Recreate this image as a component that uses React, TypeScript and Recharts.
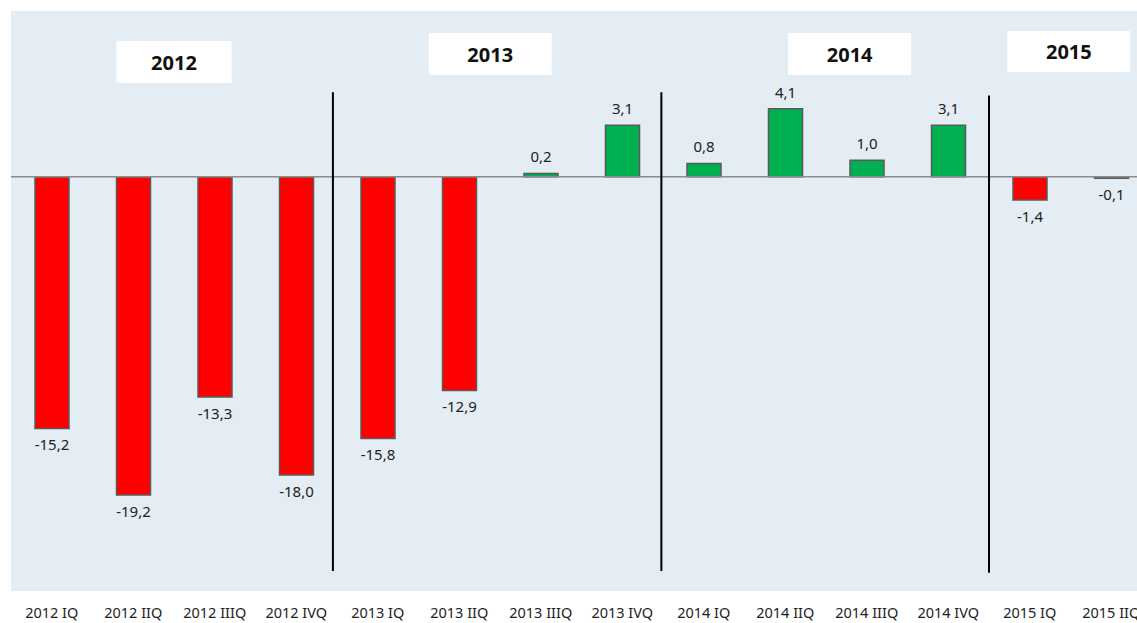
import React from 'react'
import {
    BarChart,
    Bar,
    XAxis,
    YAxis,
    CartesianGrid,
    ReferenceLine,
    ReferenceDot,
    LabelList,
    Cell,
} from 'recharts'

const quarters = [
    '2012 IQ', '2012 IIQ', '2012 IIIQ', '2012 IVQ',
    '2013 IQ', '2013 IIQ', '2013 IIIQ', '2013 IVQ',
    '2014 IQ', '2014 IIQ', '2014 IIIQ', '2014 IVQ',
    '2015 IQ', '2015 IIQ',
]
const values = [
    -15.2, -19.2, -13.3, -18.0,
    -15.8, -12.9, 0.2, 3.1,
    0.8, 4.1, 1.0, 3.1,
    -1.4, -0.1,
]
const years = ['2012', '2013', '2014', '2015']

// where the year boxes and the dividers sit, in axis units
const yearAnchors = [
    { x: 1.5, y: 6.92, w: 115, h: 42 },
    { x: 5.38, y: 7.4, w: 123, h: 42 },
    { x: 9.79, y: 7.4, w: 123, h: 42 },
    { x: 12.48, y: 7.55, w: 123, h: 41 },
]
const dividers = [
    { x: 3.45, top: 5.1, bottom: -23.8 },
    { x: 7.48, top: 5.1, bottom: -23.8 },
    { x: 11.5, top: 4.9, bottom: -23.9 },
]

const font = '"Noto Sans", "Open Sans", sans-serif'

const chartData = values.map((v, i) => ({ idx: i, value: v }))

const fmt = (v: any) => Number(v).toFixed(1).replace('.', ',')

const YearBox = (label: string, w: number, h: number) => (props: any) => {
    const { cx, cy } = props
    return (
        <g>
            <rect x={cx - w / 2} y={cy - h / 2} width={w} height={h} fill="#ffffff" />
            <text
                x={cx}
                y={cy}
                textAnchor="middle"
                dominantBaseline="central"
                fontFamily={font}
                fontWeight="bold"
                fontSize={20}
                fill="#111"
            >
                {label}
            </text>
        </g>
    )
}

export default function App() {
    return (
        <div style={{ position: 'fixed', left: 0, top: 0, width: 1137, height: 623, overflow: 'hidden', background: '#fff' }}>
            <BarChart
                width={1160}
                height={640}
                data={chartData}
                margin={{ top: 11, right: 8, left: 11, bottom: 0 }}
            >
                <CartesianGrid fill="#e4ecf4" horizontal={false} vertical={false} stroke="none" />
                <XAxis
                    type="number"
                    dataKey="idx"
                    domain={[-0.5, 13.5]}
                    ticks={quarters.map((_, i) => i)}
                    interval={0}
                    tickFormatter={(i) => quarters[i]}
                    axisLine={false}
                    tickLine={false}
                    tickMargin={11}
                    height={49}
                    tick={{ fontSize: 14.5, fill: '#222', fontFamily: font }}
                />
                <YAxis hide domain={[-25, 10]} />
                <ReferenceLine y={0} stroke="#8c8c8c" strokeWidth={1.5} />
                <Bar dataKey="value" barSize={34} stroke="#5a5a5a" strokeWidth={1.5} isAnimationActive={false}>
                    {chartData.map((d) => (
                        <Cell key={d.idx} fill={d.value < 0 ? '#ff0000' : '#00b050'} />
                    ))}
                    <LabelList
                        dataKey="value"
                        position="top"
                        offset={11}
                        formatter={fmt}
                        fill="#222"
                        fontSize={15}
                        fontFamily={font}
                    />
                </Bar>
                {dividers.map((d, i) => (
                    <ReferenceLine
                        key={'div' + i}
                        segment={[{ x: d.x, y: d.top }, { x: d.x, y: d.bottom }]}
                        stroke="#000"
                        strokeWidth={2}
                    />
                ))}
                {years.map((yr, i) => (
                    <ReferenceDot
                        key={yr}
                        x={yearAnchors[i].x}
                        y={yearAnchors[i].y}
                        r={1}
                        shape={YearBox(yr, yearAnchors[i].w, yearAnchors[i].h)}
                    />
                ))}
            </BarChart>
        </div>
    )
}
